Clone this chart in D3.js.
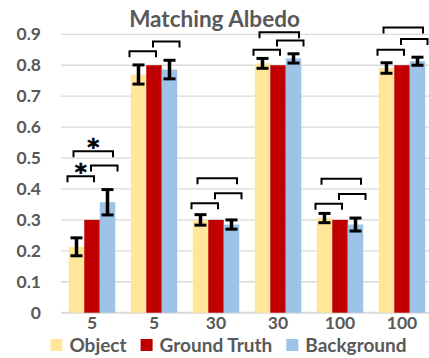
<!DOCTYPE html>
<html>
<head>
<meta charset="utf-8">
<script src="https://cdn.jsdelivr.net/npm/d3@7/dist/d3.min.js"></script>
<style>
  html, body { margin: 0; padding: 0; background: #fff; }
  svg { display: block; }
  text { font-family: Lato, "Open Sans", "DejaVu Sans", sans-serif; font-weight: 700; fill: #595959; }
</style>
</head>
<body>
<svg id="chart" width="429" height="358"></svg>
<script>
// Number of sample points per condition
const categories = ["5", "5", "30", "30", "100", "100"];
const seriesNames = ["Object", "Ground Truth", "Background"];

// Mean matched albedo per condition
const objectValues = [0.213, 0.770, 0.300, 0.806, 0.306, 0.791];
const groundTruthValues = [0.3, 0.8, 0.3, 0.8, 0.3, 0.8];
const backgroundValues = [0.357, 0.786, 0.285, 0.822, 0.285, 0.813];

// Standard error of the mean (no error for ground truth)
const objectErrors = [0.029, 0.031, 0.017, 0.016, 0.015, 0.017];
const backgroundErrors = [0.041, 0.030, 0.015, 0.015, 0.021, 0.013];

const yTicks = [0, 0.1, 0.2, 0.3, 0.4, 0.5, 0.6, 0.7, 0.8, 0.9];
const yTickLabels = ["0", "0.1", "0.2", "0.3", "0.4", "0.5", "0.6", "0.7", "0.8", "0.9"];

// Pairwise comparisons: [group, first bar, second bar, bracket level, significant]
const comparisons = [
  [0, 0, 1, 0.441, true], [0, 1, 2, 0.476, false], [0, 0, 2, 0.522, true],
  [1, 0, 1, 0.845, false], [1, 1, 2, 0.877, false],
  [2, 0, 1, 0.354, false], [2, 1, 2, 0.386, false], [2, 0, 2, 0.435, false],
  [3, 0, 1, 0.850, false], [3, 1, 2, 0.880, false], [3, 0, 2, 0.907, false],
  [4, 0, 1, 0.352, false], [4, 1, 2, 0.384, false], [4, 0, 2, 0.433, false],
  [5, 0, 1, 0.850, false], [5, 1, 2, 0.885, false], [5, 0, 2, 0.922, false]
];

const colors = ["#FFE699", "#C00000", "#9DC3E6"];
const values = [objectValues, groundTruthValues, backgroundValues];
const errors = [objectErrors, null, backgroundErrors];

const svg = d3.select("#chart");
const plot = { left: 61, right: 433, top: 34.3, bottom: 312.7 };

const x0 = d3.scaleBand()
  .domain(d3.range(categories.length))
  .range([plot.left, plot.right])
  .paddingInner(0.25)
  .paddingOuter(0.125);

const x1 = d3.scaleBand()
  .domain(d3.range(seriesNames.length))
  .range([0, x0.bandwidth()])
  .padding(0);

const y = d3.scaleLinear().domain([0, 0.9]).range([plot.bottom, plot.top]);

// Title
svg.append("text")
  .attr("x", 214.5)
  .attr("y", 27)
  .attr("text-anchor", "middle")
  .style("font-size", "22.5px")
  .text("Matching Albedo");

// Horizontal gridlines
svg.append("g")
  .selectAll("line")
  .data(yTicks)
  .join("line")
  .attr("x1", plot.left)
  .attr("x2", 429)
  .attr("y1", d => y(d))
  .attr("y2", d => y(d))
  .attr("stroke", "#d9d9d9")
  .attr("stroke-width", d => d === 0 ? 2 : 1.3);

// Y axis labels
const yAxis = d3.axisLeft(y)
  .tickValues(yTicks)
  .tickFormat((d, i) => yTickLabels[i])
  .tickSize(0)
  .tickPadding(0);
const yg = svg.append("g").attr("transform", `translate(41,0)`).call(yAxis);
yg.select(".domain").remove();
yg.selectAll("text").style("font-size", "17.5px").attr("fill", "#595959").attr("font-family", null);

// X axis labels
const xAxis = d3.axisBottom(x0)
  .tickFormat(i => categories[i])
  .tickSize(0)
  .tickPadding(0);
const xg = svg.append("g").attr("transform", `translate(0,${plot.bottom})`).call(xAxis);
xg.select(".domain").remove();
xg.selectAll("text").style("font-size", "17.5px").attr("fill", "#595959").attr("font-family", null)
  .attr("dy", null).attr("y", 16.5);

// Bars
const groups = svg.append("g")
  .selectAll("g")
  .data(categories)
  .join("g")
  .attr("transform", (d, i) => `translate(${x0(i)},0)`);

groups.selectAll("rect")
  .data((d, i) => values.map((v, s) => ({ s, v: v[i] })))
  .join("rect")
  .attr("x", d => x1(d.s))
  .attr("width", x1.bandwidth())
  .attr("y", d => y(d.v))
  .attr("height", d => y(0) - y(d.v))
  .attr("fill", d => colors[d.s]);

// Error bars
const errData = [];
categories.forEach((c, i) => {
  errors.forEach((e, s) => {
    if (e) errData.push({ g: i, s, v: values[s][i], e: e[i] });
  });
});
const capHalf = 6;
const eb = svg.append("g").attr("stroke", "#000");
errData.forEach(d => {
  const cx = x0(d.g) + x1(d.s) + x1.bandwidth() / 2;
  const yTop = y(d.v + d.e), yBot = y(d.v - d.e);
  eb.append("line").attr("stroke-width", 3.5).attr("x1", cx).attr("x2", cx).attr("y1", yTop).attr("y2", yBot);
  eb.append("line").attr("stroke-width", 3).attr("x1", cx - capHalf).attr("x2", cx + capHalf).attr("y1", yTop).attr("y2", yTop);
  eb.append("line").attr("stroke-width", 3).attr("x1", cx - capHalf).attr("x2", cx + capHalf).attr("y1", yBot).attr("y2", yBot);
});

// Significance brackets
const barCenter = (g, s) => x0(g) + x1(s) + x1.bandwidth() / 2;
const bracketOffsets = { "0-1": [-9, 2], "1-2": [-1, 10], "0-2": [-3, 5.5] };
const legLen = 6;
const br = svg.append("g").attr("fill", "none").attr("stroke", "#000").attr("stroke-width", 2);
comparisons.forEach(([g, a, b, level, sig]) => {
  const off = bracketOffsets[`${a}-${b}`];
  const xl = barCenter(g, a) + off[0];
  const xr = barCenter(g, b) + off[1];
  const yl = y(level);
  br.append("path").attr("d", `M${xl},${yl + legLen}V${yl}H${xr}V${yl + legLen}`);
  if (sig) {
    svg.append("text")
      .attr("x", (xl + xr) / 2)
      .attr("y", yl + 4)
      .attr("text-anchor", "middle")
      .style("font-family", "'DejaVu Sans', sans-serif")
      .style("font-size", "23px")
      .style("fill", "#000")
      .style("stroke", "#000")
      .style("stroke-width", "0.6px")
      .text("*");
  }
});

// Legend
const legend = svg.append("g");
let lx = 0;
seriesNames.forEach((name, s) => {
  const item = legend.append("g").attr("transform", `translate(${lx},0)`);
  item.append("rect").attr("x", 0).attr("y", 339).attr("width", 12).attr("height", 12).attr("fill", colors[s]);
  const t = item.append("text").attr("x", 19).attr("y", 351.5).style("font-size", "19px").text(name);
  lx += 19 + t.node().getComputedTextLength() + 14;
});
const legendWidth = lx - 14;
legend.attr("transform", `translate(${228.5 - legendWidth / 2},0)`);
</script>
</body>
</html>
